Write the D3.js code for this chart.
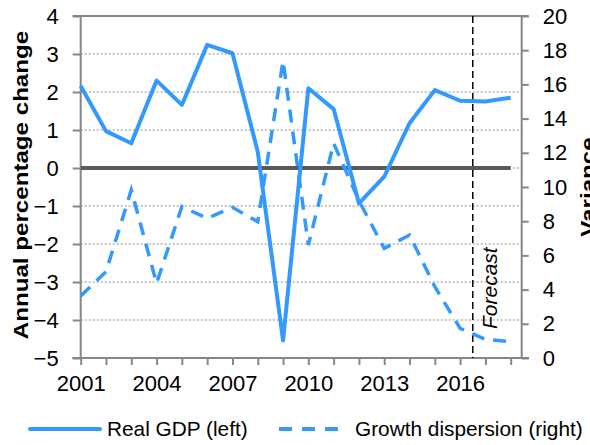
<!DOCTYPE html>
<html>
<head>
<meta charset="utf-8">
<script src="https://cdn.jsdelivr.net/npm/d3@7"></script>
<style>
	body { margin: 0; background: #fff; }
	text { font-family: "Liberation Sans", Arial, sans-serif; fill: #000; }
</style>
</head>
<body>
<svg id="chart"></svg>
<script>
var years = d3.range(2001, 2019)
var realGDP = [2.16, 0.97, 0.65, 2.30, 1.66, 3.24, 3.02, 0.43, -4.54, 2.10, 1.55, -0.93, -0.23, 1.18, 2.05, 1.77, 1.75, 1.85]
var dispersion = [3.63, 5.05, 9.82, 4.37, 8.85, 8.17, 8.81, 7.97, 17.37, 6.61, 12.55, 9.2, 6.41, 7.19, 4.17, 1.74, 1.09, 0.95]
var leftTicks = d3.range(-5, 5)
var rightTicks = d3.range(0, 22, 2)
var yearLabels = [2001, 2004, 2007, 2010, 2013, 2016]
var forecastStart = 2016.5

var dim = { width: 590, height: 445, left: 80.7, right: 521.7, top: 16, bottom: 358 }
var blue = '#3399ff', axisGrey = '#868686'

var svg = d3.select('#chart')
	.attr('width', dim.width)
	.attr('height', dim.height)

var x = d3.scaleLinear()
	.domain([2001, 2018])
	.range([dim.left, 510.7])

var yL = d3.scaleLinear()
	.domain([-5, 4])
	.range([dim.bottom, dim.top])

var yR = d3.scaleLinear()
	.domain([0, 20])
	.range([dim.bottom, dim.top])

// dotted gridlines
svg.append('g')
	.selectAll('line')
	.data(leftTicks.filter(d => d > -5 && d < 4))
	.enter()
	.append('line')
		.attr('x1', dim.left)
		.attr('x2', dim.right)
		.attr('y1', d => yL(d))
		.attr('y2', d => yL(d))
		.attr('stroke', '#8c8c8c')
		.attr('stroke-width', 1)
		.attr('stroke-dasharray', '2,2')

// left axis
var gl = svg.append('g')
	.attr('transform', 'translate(' + dim.left + ',0)')
	.call(d3.axisLeft(yL).tickValues(leftTicks).tickSize(8).tickPadding(14))
gl.selectAll('text').style('font-size', '22px')

// right axis
var gr = svg.append('g')
	.attr('transform', 'translate(' + dim.right + ',0)')
	.call(d3.axisRight(yR).tickValues(rightTicks).tickSize(7).tickPadding(14))
gr.selectAll('text').style('font-size', '22px')

// bottom axis
var gb = svg.append('g')
	.attr('transform', 'translate(0,' + dim.bottom + ')')
	.call(d3.axisBottom(x).tickValues(years).tickSize(7).tickPadding(10)
		.tickFormat(d => yearLabels.includes(d) ? d : ''))
gb.selectAll('text').style('font-size', '22px')
gb.select('.domain').attr('d', 'M' + (dim.left - 8) + ',0H' + (dim.right + 7))

svg.selectAll('.domain, .tick line')
	.attr('stroke', axisGrey)
	.attr('stroke-width', 2)
gl.select('.domain').attr('d', 'M-8,' + dim.top + 'H0V' + dim.bottom + 'H-8')
gr.select('.domain').attr('d', 'M7,' + dim.top + 'H0V' + dim.bottom + 'H7')

// top border
svg.append('line')
	.attr('x1', dim.left).attr('x2', dim.right)
	.attr('y1', dim.top).attr('y2', dim.top)
	.attr('stroke', axisGrey).attr('stroke-width', 2)

// zero line
svg.append('line')
	.attr('x1', x(2001)).attr('x2', x(2018))
	.attr('y1', yL(0)).attr('y2', yL(0))
	.attr('stroke', '#595959').attr('stroke-width', 4)

// forecast marker
svg.append('line')
	.attr('x1', x(forecastStart)).attr('x2', x(forecastStart))
	.attr('y1', dim.top).attr('y2', dim.bottom)
	.attr('stroke', '#000').attr('stroke-width', 1.5)
	.attr('stroke-dasharray', '7,4')
svg.append('text')
	.attr('transform', 'translate(497,329) rotate(-90)')
	.style('font-size', '21px')
	.style('font-style', 'italic')
	.text('Forecast')

var lineL = d3.line().x((d, i) => x(years[i])).y(d => yL(d))
var lineR = d3.line().x((d, i) => x(years[i])).y(d => yR(d))

svg.append('path')
	.datum(dispersion)
	.attr('d', lineR)
	.attr('fill', 'none')
	.attr('stroke', blue)
	.attr('stroke-width', 3.5)
	.attr('stroke-dasharray', '13,9')

svg.append('path')
	.datum(realGDP)
	.attr('d', lineL)
	.attr('fill', 'none')
	.attr('stroke', blue)
	.attr('stroke-width', 4)
	.attr('stroke-linejoin', 'round')

// axis titles (wide bold face, stretched along the baseline)
svg.append('text')
	.attr('transform', 'translate(28,185) rotate(-90) scale(1.15,1)')
	.attr('text-anchor', 'middle')
	.style('font-size', '21px')
	.style('font-weight', 'bold')
	.text('Annual percentage change')
svg.append('text')
	.attr('transform', 'translate(595,187) rotate(-90) scale(1.15,1)')
	.attr('text-anchor', 'middle')
	.style('font-size', '21px')
	.style('font-weight', 'bold')
	.text('Variance')

// legend
var legend = svg.append('g').attr('transform', 'translate(0,429)')
legend.append('line')
	.attr('x1', 30).attr('x2', 100)
	.attr('stroke', blue).attr('stroke-width', 4)
	.attr('stroke-linecap', 'round')
legend.append('text')
	.attr('x', 107).attr('dy', '0.35em')
	.style('font-size', '20.8px')
	.text('Real GDP (left)')
legend.append('line')
	.attr('x1', 279).attr('x2', 345)
	.attr('stroke', blue).attr('stroke-width', 4)
	.attr('stroke-dasharray', '13,10')
legend.append('text')
	.attr('x', 355).attr('dy', '0.35em')
	.style('font-size', '20.8px')
	.text('Growth dispersion (right)')
</script>
</body>
</html>
